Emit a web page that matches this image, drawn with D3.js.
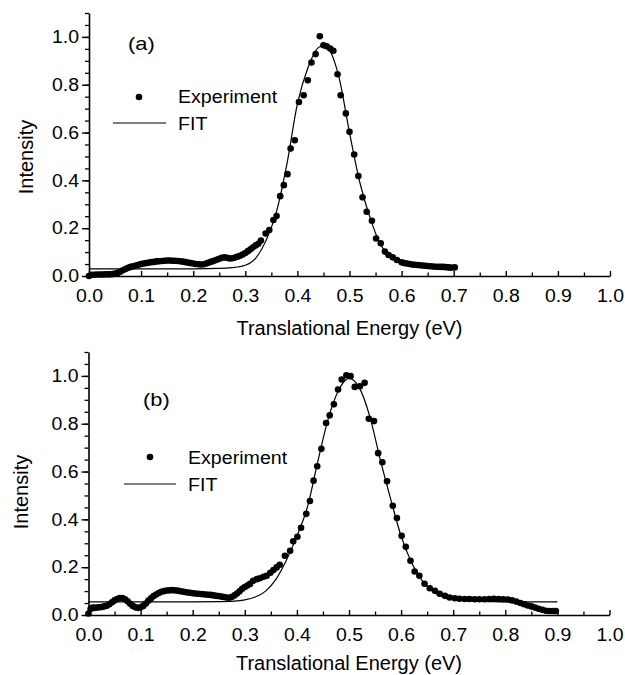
<!DOCTYPE html>
<html><head><meta charset="utf-8">
<script src="https://cdn.jsdelivr.net/npm/d3@7"></script>
<style>
body{margin:0;background:#fff}
svg{display:block}
text{font-family:"Liberation Sans",Arial,Helvetica,sans-serif;fill:#000}
</style>
</head><body>
<svg id="c" width="625" height="675"></svg>
<script>
// ---------- data ----------
const xTickValues = [0,0.1,0.2,0.3,0.4,0.5,0.6,0.7,0.8,0.9,1.0];
const xTickLabels = ["0.0","0.1","0.2","0.3","0.4","0.5","0.6","0.7","0.8","0.9","1.0"];
const yTickValues = [0,0.2,0.4,0.6,0.8,1.0];
const yTickLabels = ["0.0","0.2","0.4","0.6","0.8","1.0"];
const seriesNames = ["Experiment","FIT"];
const panelLabels = ["(a)","(b)"];
const xTitle = "Translational Energy (eV)";
const yTitle = "Intensity";

// panel (a) experiment
const expAx = [0.000,0.005,0.010,0.015,0.020,0.025,0.030,0.035,0.040,0.045,0.050,0.055,0.060,0.065,0.070,0.075,0.080,0.085,0.090,0.095,
0.100,0.105,0.110,0.115,0.120,0.125,0.130,0.135,0.140,0.145,0.150,0.155,0.160,0.165,0.170,0.175,0.180,0.185,0.190,0.195,
0.200,0.205,0.210,0.215,0.220,0.225,0.230,0.235,0.240,0.245,0.250,0.255,0.260,0.265,0.270,0.275,0.280,0.285,0.290,0.295,
0.300,0.305,0.310,0.315,0.320,0.325,0.330,
0.339,0.346,0.354,0.360,0.367,0.374,0.381,0.387,0.395,0.403,0.412,0.420,0.427,0.435,0.443,0.450,0.456,0.463,0.469,0.477,
0.483,0.493,0.500,0.509,0.517,0.525,0.533,0.543,0.551,0.560,0.568,0.575,0.583,0.591,0.600,
0.605,0.610,0.615,0.620,0.625,0.630,0.635,0.640,0.645,0.650,0.655,0.660,0.665,0.670,0.675,0.680,0.685,0.690,0.695,0.702];
const expAy = [0.000,0.005,0.005,0.006,0.006,0.006,0.007,0.007,0.007,0.008,0.010,0.013,0.018,0.024,0.029,0.034,0.038,0.041,0.044,0.047,
0.050,0.052,0.054,0.056,0.058,0.059,0.061,0.062,0.063,0.064,0.065,0.065,0.064,0.064,0.063,0.062,0.060,0.058,0.056,0.054,
0.052,0.050,0.049,0.048,0.049,0.052,0.056,0.060,0.064,0.068,0.072,0.076,0.078,0.076,0.073,0.074,0.077,0.081,0.085,0.090,
0.096,0.104,0.112,0.120,0.128,0.135,0.148,
0.178,0.192,0.234,0.251,0.334,0.380,0.426,0.533,0.568,0.728,0.756,0.819,0.893,0.928,1.003,0.965,0.961,0.951,0.942,0.844,
0.756,0.680,0.603,0.508,0.418,0.329,0.269,0.231,0.157,0.137,0.102,0.088,0.078,0.067,0.057,
0.054,0.052,0.050,0.048,0.047,0.046,0.045,0.044,0.043,0.042,0.041,0.040,0.039,0.039,0.038,0.038,0.037,0.036,0.035,0.036];
// panel (a) fit
const fitAx = [0,0.05,0.10,0.15,0.20,0.25,0.28,0.30,0.32,0.34,0.36,0.38,0.40,0.42,0.44,0.45,0.46,0.48,0.50,0.52,0.54,0.56,0.58,0.60,0.62,0.65,0.70];
const fitAy = [0.030,0.030,0.030,0.030,0.030,0.032,0.036,0.045,0.075,0.150,0.270,0.470,0.720,0.870,0.955,0.965,0.950,0.830,0.600,0.390,0.240,0.130,0.078,0.052,0.041,0.035,0.032];

// panel (b) experiment
const expBx = [0.000,0.004,0.008,0.012,0.016,0.020,0.025,0.030,0.035,0.040,0.045,0.050,0.055,0.060,0.065,0.070,0.075,0.080,0.085,0.090,
0.095,0.100,0.105,0.110,0.115,0.120,0.125,0.130,0.135,0.140,0.145,0.150,0.155,0.160,0.165,0.170,0.175,0.180,0.185,0.190,
0.195,0.200,0.205,0.210,0.215,0.220,0.225,0.230,0.235,0.240,0.245,0.250,0.255,0.260,0.265,0.270,0.275,0.280,0.285,0.290,
0.295,0.300,0.305,0.310,0.316,0.323,0.329,0.336,0.342,0.349,0.355,0.361,0.367,0.377,0.387,0.393,0.401,0.408,0.418,0.425,
0.432,0.439,0.447,0.456,0.463,0.471,0.479,0.486,0.495,0.503,0.511,0.521,0.530,0.538,0.548,0.556,0.564,0.573,0.584,0.592,
0.601,0.609,0.618,0.626,0.635,0.645,0.655,0.665,0.674,0.684,0.693,0.703,0.712,0.722,0.731,0.741,0.750,0.760,0.769,0.778,
0.787,0.796,0.805,0.813,0.821,0.829,0.836,0.843,0.850,0.857,0.864,0.871,0.878,0.885,0.892,0.897];
const expBy = [0.006,0.025,0.031,0.030,0.031,0.032,0.033,0.036,0.039,0.045,0.053,0.061,0.067,0.071,0.071,0.066,0.057,0.047,0.038,0.032,
0.030,0.032,0.038,0.048,0.060,0.070,0.079,0.086,0.092,0.097,0.100,0.102,0.103,0.104,0.103,0.102,0.100,0.098,0.096,0.094,
0.093,0.091,0.090,0.089,0.088,0.087,0.086,0.085,0.084,0.082,0.080,0.079,0.077,0.075,0.073,0.072,0.075,0.082,0.090,0.099,
0.110,0.117,0.123,0.130,0.143,0.150,0.154,0.160,0.164,0.177,0.188,0.199,0.210,0.248,0.269,0.308,0.327,0.365,0.423,0.477,
0.562,0.622,0.695,0.803,0.835,0.881,0.943,0.985,1.003,0.999,0.954,0.957,0.971,0.821,0.811,0.677,0.639,0.559,0.457,0.406,
0.331,0.285,0.227,0.182,0.164,0.131,0.112,0.101,0.089,0.080,0.073,0.070,0.068,0.067,0.067,0.066,0.066,0.066,0.067,0.068,
0.067,0.066,0.065,0.061,0.056,0.050,0.045,0.040,0.036,0.031,0.026,0.022,0.018,0.017,0.017,0.017];
// panel (b) fit
const fitBx = [0,0.10,0.20,0.25,0.28,0.30,0.32,0.34,0.36,0.38,0.40,0.42,0.44,0.46,0.48,0.50,0.52,0.54,0.56,0.58,0.60,0.62,0.64,0.66,0.68,0.70,0.75,0.80,0.90];
const fitBy = [0.055,0.055,0.055,0.056,0.058,0.063,0.075,0.100,0.150,0.230,0.330,0.450,0.640,0.820,0.940,0.990,0.950,0.830,0.650,0.485,0.330,0.220,0.145,0.100,0.077,0.065,0.057,0.055,0.055];

// ---------- layout ----------
const W = 521, H = 263;
const panels = [
  {ox:89, oy:13, ex:expAx, ey:expAy, fx:fitAx, fy:fitAy, label:panelLabels[0],
   lab:[39,37], mk:[50,84], t1:[89,90], t2:[89,117], ln:[24,77,110], ytx:33, yty:144, xtY:59},
  {ox:88.5, oy:352, ex:expBx, ey:expBy, fx:fitBx, fy:fitBy, label:panelLabels[1],
   lab:[54.5,54], mk:[61.5,105], t1:[99.5,111.5], t2:[99.5,139], ln:[35.5,87.5,132], ytx:28, yty:140, xtY:55}
];

const svg = d3.select("#c");
function stretch(sel, f){
  sel.each(function(){
    const w = this.getComputedTextLength();
    this.setAttribute("textLength", (w*f).toFixed(2));
    this.setAttribute("lengthAdjust","spacingAndGlyphs");
  });
}

panels.forEach((p,pi)=>{
  const x = d3.scaleLinear().domain([0,1]).range([0,W]);
  const y = d3.scaleLinear().domain([0,1.1]).range([H,0]);
  const g = svg.append("g").attr("transform",`translate(${p.ox},${p.oy})`);

  // fit line
  const fit = p.fx.map((v,i)=>[v,p.fy[i]]);
  g.append("path").datum(fit)
    .attr("fill","none").attr("stroke","#000").attr("stroke-width",1.2)
    .attr("d", d3.line().x(d=>x(d[0])).y(d=>y(d[1])).curve(d3.curveMonotoneX));

  // experiment points
  const pts = p.ex.map((v,i)=>[v,p.ey[i]]);
  g.append("g").selectAll("circle").data(pts).join("circle")
    .attr("cx",d=>x(d[0])).attr("cy",d=>y(d[1])).attr("r",3.3).attr("fill","#000");

  // minor ticks
  g.append("g").attr("transform",`translate(0,${H})`)
    .call(d3.axisBottom(x).tickValues(d3.range(0.05,1,0.1)).tickSize(-3.5).tickFormat(""))
    .call(a=>{a.select(".domain").remove(); a.selectAll("line").attr("stroke-width",1.3);});
  g.append("g")
    .call(d3.axisLeft(y).tickValues(d3.range(0,1.1001,0.05)).tickSize(4).tickFormat(""))
    .call(a=>{a.select(".domain").remove(); a.selectAll("line").attr("stroke-width",1.3);});

  // major axes
  const gx = g.append("g").attr("transform",`translate(0,${H})`)
    .call(d3.axisBottom(x).tickValues(xTickValues).tickFormat((d,i)=>xTickLabels[i])
      .tickSize(-5).tickSizeOuter(0).tickPadding(13));
  const gy = g.append("g")
    .call(d3.axisLeft(y).tickValues(yTickValues).tickFormat((d,i)=>yTickLabels[i])
      .tickSize(7).tickSizeOuter(0).tickPadding(3));
  [gx,gy].forEach(a=>{
    a.attr("font-family",null);
    a.select(".domain").attr("stroke-width",1.6);
    a.selectAll("line").attr("stroke-width",1.4);
    a.selectAll("text").attr("font-size",18).call(stretch,1.08);
  });

  // axis titles
  g.append("text").attr("x",x(0.5)).attr("y",H+p.xtY).attr("text-anchor","middle")
    .attr("font-size",20).text(xTitle);
  g.append("text").attr("transform",`translate(${p.ytx-p.ox},${p.yty}) rotate(-90)`)
    .attr("text-anchor","middle").attr("font-size",20).text(yTitle);

  // panel label
  g.append("text").attr("x",p.lab[0]).attr("y",p.lab[1]).attr("font-size",19).text(p.label).call(stretch,1.15);

  // legend
  g.append("circle").attr("cx",p.mk[0]).attr("cy",p.mk[1]).attr("r",3.3).attr("fill","#000");
  g.append("text").attr("x",p.t1[0]).attr("y",p.t1[1]).attr("font-size",17.5).text(seriesNames[0]).call(stretch,1.12);
  g.append("line").attr("x1",p.ln[0]).attr("x2",p.ln[1]).attr("y1",p.ln[2]).attr("y2",p.ln[2])
    .attr("stroke","#000").attr("stroke-width",1.2);
  g.append("text").attr("x",p.t2[0]).attr("y",p.t2[1]).attr("font-size",17.5).text(seriesNames[1]).call(stretch,1.12);
});
</script>
</body></html>
